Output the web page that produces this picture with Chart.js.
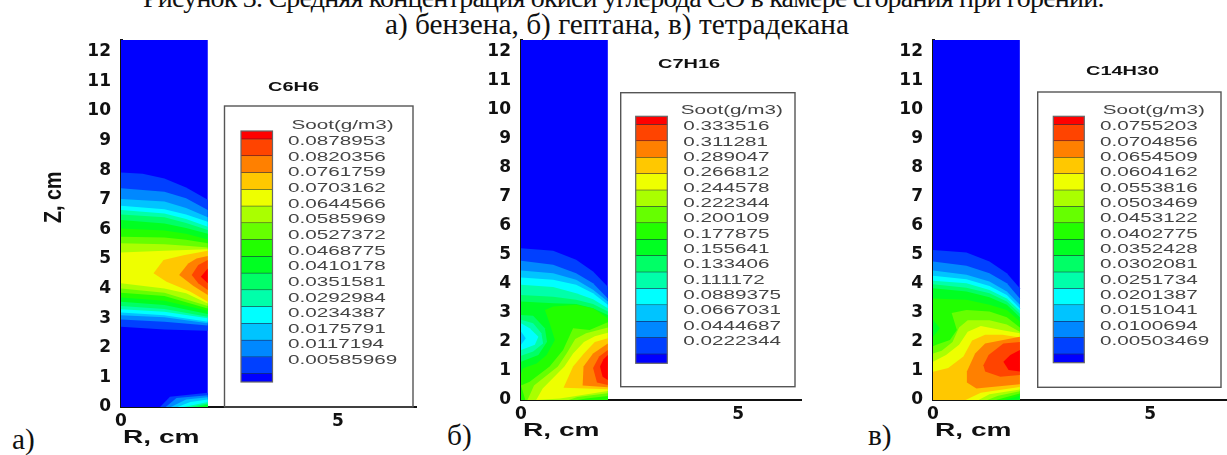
<!DOCTYPE html>
<html lang="ru">
<head>
<meta charset="utf-8">
<title>Рисунок 3</title>
<script src="https://cdn.jsdelivr.net/npm/chart.js@4"></script>
<style>
  html, body { margin: 0; padding: 0; background: #fff; overflow: hidden; }
  canvas { position: absolute; left: 0; top: 0; }
  .txt { position: absolute; font-family: "Liberation Serif", serif; font-size: 29.3px; color: #111; white-space: nowrap; line-height: 30px; }
</style>
</head>
<body>
<div class="txt" style="left:143px;top:-17px;font-size:28px;letter-spacing:-0.8px">Рисунок 3. Средняя концентрация окиси углерода СО в камере сгорания при горении.</div>
<div class="txt" style="left:385px;top:9px">а) бензена, б) гептана, в) тетрадекана</div>
<div class="txt" style="left:12px;top:424px">а)</div>
<div class="txt" style="left:447px;top:420px">б)</div>
<div class="txt" style="left:868px;top:420px">в)</div>
<canvas id="panelA" width="1227" height="455"></canvas>
<canvas id="panelB" width="1227" height="455"></canvas>
<canvas id="panelC" width="1227" height="455"></canvas>
<script>
// цвета уровней, снизу вверх по шкале
const levelColors = ['#0000ff', '#0040ff', '#0088ff', '#00c4ff', '#00ffff', '#00ffaa', '#00ff66', '#00ff22',
  '#22ff00', '#66ff00', '#aaff00', '#eeff00', '#ffc800', '#ff8000', '#ff4400', '#ff0000'];

const zTicks = [0, 1, 2, 3, 4, 5, 6, 7, 8, 9, 10, 11, 12];
const rTicks = [0, 5];

const labelsBenzene = ['0.0878953', '0.0820356', '0.0761759', '0.0703162', '0.0644566', '0.0585969', '0.0527372', '0.0468775',
  '0.0410178', '0.0351581', '0.0292984', '0.0234387', '0.0175791', '0.0117194', '0.00585969'];
const labelsHeptane = ['0.333516', '0.311281', '0.289047', '0.266812', '0.244578', '0.222344', '0.200109', '0.177875',
  '0.155641', '0.133406', '0.111172', '0.0889375', '0.0667031', '0.0444687', '0.0222344'];
const labelsTetradecane = ['0.0755203', '0.0704856', '0.0654509', '0.0604162', '0.0553816', '0.0503469', '0.0453122', '0.0402775',
  '0.0352428', '0.0302081', '0.0251734', '0.0201387', '0.0151041', '0.0100694', '0.00503469'];

// контуры: [уровень, [[R, Z], ...]], рисуются по порядку, один поверх другого
const contoursBenzene = [
  [0, [[0, 0], [2, 0], [2, 12.4], [0, 12.4]]],
  [1, [[0, 7.92], [0.5, 7.88], [1, 7.72], [1.5, 7.42], [2, 7.0], [2, 2.58], [1, 2.62], [0, 2.71]]],
  [2, [[0, 7.39], [1, 7.27], [1.5, 7.05], [2, 6.66], [2, 2.75], [1, 2.88], [0, 2.96]]],
  [3, [[0, 7.03], [1, 6.94], [1.5, 6.72], [2, 6.41], [2, 2.83], [1, 3.03], [0, 3.1]]],
  [4, [[0, 6.8], [1, 6.68], [1.5, 6.5], [2, 6.26], [2, 2.88], [1, 3.1], [0, 3.19]]],
  [5, [[0, 6.66], [1, 6.54], [1.5, 6.35], [2, 6.09], [2, 3.0], [1, 3.22], [0, 3.3]]],
  [6, [[0, 6.5], [1, 6.41], [1.5, 6.22], [2, 5.98], [2, 3.05], [1, 3.31], [0, 3.41]]],
  [7, [[0, 6.32], [1, 6.2], [1.5, 6.05], [2, 5.85], [2, 3.14], [1, 3.45], [0, 3.56]]],
  [8, [[0, 6.03], [1, 5.96], [1.5, 5.85], [2, 5.66], [2, 3.25], [1, 3.59], [0, 3.7]]],
  [9, [[0, 5.75], [1, 5.73], [1.5, 5.65], [2, 5.53], [2, 3.33], [1, 3.75], [0, 3.86]]],
  [10, [[0, 5.53], [1, 5.5], [1.5, 5.45], [2, 5.39], [2, 3.41], [1, 3.86], [0, 4.0]]],
  [11, [[0, 5.22], [1, 5.28], [2, 5.33], [2, 3.5], [1.5, 3.84], [1, 4.0], [0, 4.18]]],
  [12, [[0.75, 4.52], [0.98, 4.97], [1.44, 5.13], [2, 5.28], [2, 3.56], [1.59, 3.9], [1.05, 4.23]]],
  [13, [[1.34, 4.46], [1.55, 4.85], [1.74, 5.02], [2, 5.1], [2, 3.78], [1.67, 4.09]]],
  [14, [[1.63, 4.46], [1.78, 4.8], [2, 4.97], [2, 3.95], [1.78, 4.18]]],
  [15, [[1.84, 4.4], [2, 4.68], [2, 4.18]]],
  // пятно у нижней границы
  [1, [[0.9, 0], [1.13, 0.35], [2, 0.48], [2, 0]]],
  [2, [[1.03, 0], [1.28, 0.3], [2, 0.4], [2, 0]]],
  [3, [[1.15, 0], [1.5, 0.25], [2, 0.33], [2, 0]]],
  [4, [[1.3, 0], [1.6, 0.17], [2, 0.25], [2, 0]]],
  [5, [[1.45, 0], [2, 0.17], [2, 0]]],
  [6, [[1.6, 0], [2, 0.12], [2, 0]]],
  [7, [[1.75, 0], [2, 0.08], [2, 0]]]
];

const contoursHeptane = [
  [0, [[0, 0], [2, 0], [2, 12.4], [0, 12.4]]],
  [1, [[0, 5.23], [0.74, 5.14], [1.27, 4.83], [1.66, 4.43], [2, 3.9], [2, 0], [0, 0]]],
  [2, [[0, 4.8], [0.74, 4.66], [1.27, 4.37], [1.66, 4.02], [2, 3.5], [2, 0], [0, 0]]],
  [3, [[0, 4.46], [0.74, 4.37], [1.27, 4.14], [1.66, 3.8], [2, 3.39], [2, 0], [0, 0]]],
  [4, [[0, 4.22], [0.74, 4.14], [1.27, 3.97], [1.66, 3.68], [2, 3.28], [2, 0], [0, 0]]],
  [5, [[0, 3.97], [0.74, 3.89], [1.27, 3.68], [1.66, 3.47], [2, 3.16], [2, 0], [0, 0]]],
  [6, [[0, 3.62], [0.74, 3.56], [1.27, 3.45], [1.66, 3.31], [2, 3.05], [2, 0], [0, 0]]],
  [7, [[0, 3.39], [0.74, 3.33], [1.27, 3.31], [1.66, 3.16], [2, 2.93], [2, 0], [0, 0]]],
  // провал у оси
  [6, [[0, 2.93], [0.28, 2.9], [0.55, 2.47], [0.6, 2.01], [0.4, 1.55], [0, 1.32]]],
  [5, [[0, 2.76], [0.28, 2.64], [0.47, 2.3], [0.51, 1.95], [0.28, 1.67], [0, 1.52]]],
  [4, [[0, 2.64], [0.2, 2.47], [0.4, 2.18], [0.32, 1.9], [0, 1.72]]],
  [3, [[0, 2.36], [0.11, 2.13], [0, 1.9]]],
  [8, [[0.55, 3.1], [0.74, 3.22], [1.27, 3.28], [1.66, 3.16], [2, 2.82], [2, 0], [1.8, 0], [0, 0], [0, 0.9], [0.05, 1.09],
    [0.36, 1.26], [0.59, 1.55], [0.78, 2.07], [0.66, 2.64]]],
  [9, [[0, 0.5], [0.2, 0.63], [0.66, 1.15], [0.97, 1.72], [1.2, 2.47], [1.58, 2.41], [2, 2.68], [2, 0.14], [1.5, 0.05], [1.3, 0], [0.1, 0]]],
  [10, [[0.15, 0], [0.3, 0.5], [0.85, 1.15], [1.05, 1.6], [1.25, 2.1], [1.5, 2.3], [2, 2.5], [2, 0.23], [1.3, 0.1], [1.1, 0]]],
  [11, [[0.35, 0], [0.5, 0.4], [1.0, 1.15], [1.2, 1.6], [1.45, 2.0], [1.7, 2.2], [2, 2.32], [2, 0.31], [1.3, 0.15], [0.9, 0.05]]],
  [12, [[0.98, 0.42], [1.2, 1.15], [1.45, 1.6], [1.7, 2.0], [2, 2.13], [2, 0.37]]],
  [13, [[1.42, 0.5], [1.44, 1.15], [1.66, 1.6], [2, 1.95], [2, 0.44]]],
  [14, [[1.66, 1.1], [1.8, 1.5], [2, 1.72], [2, 0.52], [1.75, 0.6]]],
  [15, [[1.82, 1.15], [1.9, 1.4], [2, 1.55], [2, 0.69], [1.88, 0.8]]]
];

const contoursTetradecane = [
  [0, [[0, 0], [2, 0], [2, 12.4], [0, 12.4]]],
  [1, [[0, 5.17], [0.77, 5.08], [1.3, 4.77], [1.7, 4.37], [2, 3.85], [2, 0], [0, 0]]],
  [2, [[0, 4.77], [0.77, 4.62], [1.3, 4.37], [1.7, 4.02], [2, 3.5], [2, 0], [0, 0]]],
  [3, [[0, 4.46], [0.77, 4.31], [1.3, 4.08], [1.7, 3.74], [2, 3.28], [2, 0], [0, 0]]],
  [4, [[0, 4.28], [0.77, 4.16], [1.3, 3.93], [1.7, 3.62], [2, 3.16], [2, 0], [0, 0]]],
  [5, [[0, 4.11], [0.77, 4.02], [1.3, 3.79], [1.7, 3.5], [2, 3.07], [2, 0], [0, 0]]],
  [6, [[0, 3.99], [0.77, 3.87], [1.3, 3.68], [1.7, 3.39], [2, 2.97], [2, 0], [0, 0]]],
  [7, [[0, 3.85], [0.77, 3.74], [1.3, 3.54], [1.7, 3.28], [2, 2.85], [2, 0], [0, 0]]],
  [8, [[0, 3.5], [0.77, 3.45], [1.3, 3.28], [1.7, 3.1], [2, 2.7], [2, 0.15], [1.65, 0], [0, 0]]],
  [7, [[0, 2.76], [0.16, 2.47], [0, 2.18]]],
  [9, [[0, 1.85], [0.08, 1.9], [0.39, 2.07], [0.55, 2.41], [0.43, 3.0], [0.77, 3.1], [1.3, 3.05], [1.7, 2.85], [2, 2.5],
    [2, 0.22], [1.7, 0.1], [1.45, 0], [0, 0]]],
  [10, [[0, 1.6], [0.2, 1.7], [0.45, 2.0], [0.6, 2.5], [0.8, 2.75], [1.3, 2.75], [1.7, 2.6], [2, 2.35],
    [2, 0.3], [1.5, 0.15], [1.25, 0], [0, 0]]],
  [11, [[0, 1.32], [0.3, 1.55], [0.6, 1.9], [0.8, 2.35], [1.1, 2.55], [1.6, 2.4], [2, 2.3],
    [2, 0.36], [1.3, 0.2], [1.05, 0], [0, 0]]],
  [12, [[0, 0.97], [0.35, 1.1], [0.7, 1.5], [0.9, 2.05], [1.2, 2.25], [1.6, 2.25], [2, 2.15],
    [2, 0.45], [1.1, 0.25], [0.75, 0], [0, 0]]],
  [13, [[0.78, 0.98], [0.97, 1.6], [1.2, 1.95], [2, 2.18], [2, 0.54], [1.0, 0.4], [0.78, 0.6]]],
  [14, [[1.16, 1.2], [1.28, 1.55], [1.62, 1.95], [2, 2.0], [2, 0.86], [1.55, 0.8], [1.2, 0.98]]],
  [15, [[1.62, 1.32], [1.78, 1.55], [2, 1.72], [2, 0.98], [1.74, 1.03]]]
];

// текст шире обычного: рисуем с растяжкой по горизонтали
function stretchText(ctx, text, x, y, sx, font, color, rotate) {
  ctx.save();
  ctx.translate(x, y);
  if (rotate) ctx.rotate(-Math.PI / 2);
  ctx.scale(sx, 1);
  ctx.font = font;
  ctx.fillStyle = color;
  ctx.textAlign = 'left';
  ctx.textBaseline = 'middle';
  ctx.fillText(text, 0, 0);
  ctx.restore();
}

// заливка контуров через точки, уже пересчитанные шкалами
const contourFill = {
  id: 'contourFill',
  beforeDatasetsDraw(chart) {
    const ctx = chart.ctx;
    chart.data.datasets.forEach((ds, i) => {
      const pts = chart.getDatasetMeta(i).data;
      ctx.beginPath();
      pts.forEach((p, k) => (k ? ctx.lineTo(p.x, p.y) : ctx.moveTo(p.x, p.y)));
      ctx.closePath();
      ctx.fillStyle = ds.backgroundColor;
      ctx.fill();
    });
  }
};

const panelDecor = {
  id: 'panelDecor',
  afterDraw(chart, args, opts) {
    const ctx = chart.ctx;
    const box = opts.box;
    ctx.save();
    ctx.strokeStyle = '#555';
    ctx.lineWidth = 1.4;
    ctx.strokeRect(box.x, box.y, box.w, box.h);

    // шкала цветов
    const bar = opts.bar;
    const n = opts.labels.length;
    for (let i = 0; i <= n; i++) {
      const y0 = i === 0 ? bar.top : bar.first + (i - 1) * bar.step;
      const y1 = i === n ? bar.bottom : bar.first + i * bar.step;
      ctx.fillStyle = levelColors[n - i];
      ctx.fillRect(bar.x, y0, bar.w, y1 - y0);
      if (i < n) {
        ctx.fillStyle = '#113';
        ctx.fillRect(bar.x, y1 - 0.5, bar.w, 1);
      }
    }
    ctx.strokeStyle = '#666';
    ctx.lineWidth = 1.2;
    ctx.strokeRect(bar.x, bar.top, bar.w, bar.bottom - bar.top);
    ctx.restore();

    const legendFont = '13.5px "Liberation Sans"';
    stretchText(ctx, 'Soot(g/m3)', opts.sootX, opts.sootY, 1.53, legendFont, '#444');
    opts.labels.forEach((t, i) => {
      stretchText(ctx, t, opts.labelX, opts.labelTop + i * opts.labelStep, 1.53, legendFont, '#444');
    });

    // подписи
    const boldFont = 'bold 18px "Liberation Sans"';
    stretchText(ctx, 'R, cm', opts.rX, opts.rY, 1.56, boldFont, '#111');
    stretchText(ctx, opts.name, opts.nameX, opts.nameY, 1.5, 'bold 13.3px "Liberation Sans"', '#111');
    if (opts.zAxisTitle) {
      stretchText(ctx, 'Z, cm', 54, 223, 0.82, 'bold 24px "Liberation Sans"', '#111', true);
    }
  }
};

function drawPanel(id, contours, area, decor) {
  const W = 1227, H = 455;
  new Chart(document.getElementById(id), {
    type: 'scatter',
    data: {
      datasets: contours.map(([level, pts]) => ({
        data: pts.map(([r, z]) => ({ x: r, y: z })),
        backgroundColor: levelColors[level],
        showLine: false,
        pointRadius: 0
      }))
    },
    plugins: [contourFill, panelDecor],
    options: {
      responsive: false,
      animation: false,
      layout: { padding: { left: 0, right: W - area.right, top: area.top, bottom: 0 } },
      plugins: {
        legend: { display: false },
        tooltip: { enabled: false },
        panelDecor: decor
      },
      scales: {
        x: {
          type: 'linear',
          min: 0,
          max: area.xMax,
          afterFit(s) { s.height = H - area.bottom; },
          afterBuildTicks(s) { s.ticks = rTicks.map(v => ({ value: v })); },
          grid: { display: false, drawTicks: false },
          border: { display: true, color: '#111', width: 2 },
          ticks: { color: '#111', padding: 4, maxRotation: 0, autoSkip: false, font: { family: 'DejaVu Sans', weight: 'bold', size: 17 } }
        },
        y: {
          type: 'linear',
          min: 0,
          max: 12.4,
          afterFit(s) { s.width = area.left; },
          afterBuildTicks(s) { s.ticks = zTicks.map(v => ({ value: v })); },
          grid: { display: false, drawTicks: false },
          border: { display: true, color: '#111', width: 3 },
          ticks: { color: '#111', padding: 10, autoSkip: false, font: { family: 'DejaVu Sans', weight: 'bold', size: 17 } }
        }
      }
    }
  });
}

drawPanel('panelA', contoursBenzene,
  { left: 121, right: 416, top: 40, bottom: 407, xMax: 6.8 },
  {
    box: { x: 224.5, y: 106, w: 188.5, h: 301 },
    bar: { x: 241, w: 31.5, top: 131, bottom: 382, first: 139.3, step: 16.76 },
    labels: labelsBenzene, labelX: 288, labelTop: 141.3, labelStep: 15.65,
    sootX: 291.5, sootY: 125,
    name: 'C6H6', nameX: 268, nameY: 87.5,
    rX: 123, rY: 438, zAxisTitle: true
  });

drawPanel('panelB', contoursHeptane,
  { left: 521, right: 801, top: 40, bottom: 400, xMax: 6.45 },
  {
    box: { x: 620.7, y: 92.7, w: 174.3, h: 294 },
    bar: { x: 635.7, w: 31.6, top: 116.3, bottom: 363.3, first: 124.7, step: 16.4 },
    labels: labelsHeptane, labelX: 683.3, labelTop: 126.7, labelStep: 15.33,
    sootX: 680.7, sootY: 110.7,
    name: 'C7H16', nameX: 658, nameY: 64,
    rX: 523, rY: 431
  });

drawPanel('panelC', contoursTetradecane,
  { left: 933, right: 1227, top: 40, bottom: 400, xMax: 6.77 },
  {
    box: { x: 1037.7, y: 92, w: 183.3, h: 295.3 },
    bar: { x: 1053.3, w: 31, top: 116.3, bottom: 362.7, first: 124.7, step: 16.4 },
    labels: labelsTetradecane, labelX: 1100, labelTop: 126.7, labelStep: 15.33,
    sootX: 1102.7, sootY: 110.7,
    name: 'C14H30', nameX: 1086, nameY: 71,
    rX: 935, rY: 431
  });
</script>
</body>
</html>
